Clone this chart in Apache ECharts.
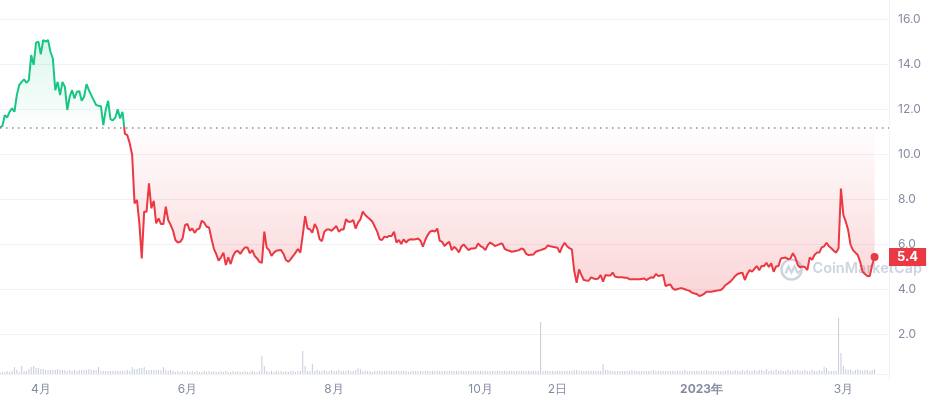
<!DOCTYPE html>
<html>
<head>
<meta charset="utf-8">
<script src="https://cdn.jsdelivr.net/npm/echarts@6/dist/echarts.min.js"></script>
<style>
html,body{margin:0;padding:0;background:#fff;}
#chart{width:929px;height:400px;}
</style>
</head>
<body>
<div id="chart"></div>
<script>
// ---- data ----
const startDate = [2022, 2, 15];   // 2022-03-15 (month 0-based)
const dayCount = 371;              // days covered by the x axis
const tickDates = ['2022-04-01','2022-06-01','2022-08-01','2022-10-01','2022-11-02','2023-01-01','2023-03-01'];
const tickLabels = ['4月','6月','8月','10月','2日','2023年','3月'];
const baseline = 11.19;

const price = [
11.19,11.25,11.73,11.63,11.88,12.03,11.88,12.62,13.07,13.21,
13.32,13.17,13.29,14.4,13.96,14.95,15.0,14.44,15.07,15.0,
15.07,14.55,14.25,12.84,13.21,12.62,13.21,12.99,11.96,12.55,
12.84,12.47,12.77,12.8,12.37,12.55,13.11,12.84,12.62,12.4,
12.18,12.15,12.13,11.29,11.96,12.37,11.54,11.5,11.63,11.99,
11.58,11.88,10.9,10.84,10.47,9.96,7.81,7.96,6.92,5.36,
7.44,7.44,8.7,7.59,7.92,6.92,7.14,6.89,6.89,7.66,
7.07,6.85,6.6,6.18,6.07,6.1,6.25,6.84,6.89,6.59,
6.69,6.5,6.65,6.69,7.04,6.95,6.77,6.74,6.25,5.8,
5.55,5.26,5.41,5.62,5.07,5.41,5.11,5.47,5.66,5.7,
5.56,5.73,5.85,5.85,5.59,5.73,5.47,5.36,5.21,5.16,
6.55,5.84,5.73,5.47,5.62,5.7,5.72,5.73,5.56,5.29,
5.21,5.33,5.47,5.62,5.78,5.62,6.4,7.24,6.69,6.66,
6.5,6.89,6.69,6.21,6.13,6.55,6.65,6.65,6.59,6.69,
6.8,6.55,6.65,6.65,7.1,6.99,6.99,7.07,6.69,6.95,
7.1,7.44,7.29,7.19,7.1,6.99,6.77,6.55,6.21,6.18,
6.33,6.3,6.36,6.36,6.55,6.07,6.18,6.0,6.21,6.07,
6.18,6.21,6.2,6.21,6.25,6.15,5.88,6.18,6.4,6.55,
6.59,6.55,6.69,6.15,6.1,5.91,6.02,6.1,5.73,5.88,
5.78,5.63,5.88,5.98,5.85,5.73,5.8,5.8,5.82,6.03,
5.91,5.85,5.73,5.95,6.07,6.0,5.91,5.95,6.0,6.03,
5.8,5.73,5.7,5.66,5.68,5.7,5.73,5.8,5.76,5.56,
5.51,5.52,5.53,5.66,5.7,5.73,5.77,5.81,5.94,5.9,
5.88,5.86,5.84,5.62,5.88,6.06,5.9,5.82,5.76,4.8,
4.28,4.87,4.62,4.4,4.38,4.37,4.52,4.47,4.44,4.47,
4.62,4.33,4.62,4.6,4.6,4.73,4.55,4.52,4.52,4.52,
4.5,4.5,4.43,4.43,4.43,4.43,4.43,4.45,4.47,4.4,
4.46,4.52,4.5,4.67,4.58,4.6,4.62,4.13,4.18,4.2,
4.03,3.96,4.0,4.03,4.03,3.99,3.95,3.92,3.84,3.8,
3.78,3.69,3.72,3.78,3.88,3.88,3.88,3.9,3.92,3.94,
3.96,4.05,4.18,4.25,4.33,4.45,4.58,4.67,4.7,4.73,
4.4,4.67,4.84,4.77,4.9,5.02,4.84,5.02,5.02,5.17,
4.98,5.14,4.77,5.0,5.02,5.36,5.38,5.4,5.33,5.36,
5.59,5.4,5.07,4.96,5.0,4.98,4.84,5.4,5.3,5.51,
5.62,5.62,5.85,5.9,6.06,5.9,5.81,5.7,5.62,5.81,
8.47,7.3,7.0,6.62,5.96,5.73,5.62,5.51,5.21,4.77,
4.67,4.58,4.58,5.07,5.42
];

const volume = [
2,2,2,3,2,3,7,4,2,8,
3,3,5,7,8,6,6,5,5,4,
4,4,4,4,5,4,4,4,3,4,
3,4,3,4,4,4,4,5,4,4,
4,7,3,3,3,3,3,3,3,3,
3,3,3,4,3,7,5,5,6,6,
7,4,4,4,4,4,4,4,7,4,
3,4,3,2,3,2,3,2,3,2,
3,2,3,2,2,3,2,3,2,3,
2,2,3,2,3,2,2,3,2,3,
2,2,3,2,2,3,2,2,3,18,
8,3,2,3,2,3,2,3,2,3,
2,3,3,2,3,3,23,8,3,3,
10,3,4,3,3,4,3,3,4,3,
3,4,3,3,3,4,3,3,4,6,
5,3,3,3,3,2,3,3,3,3,
3,3,3,3,3,3,3,3,3,3,
2,3,3,3,3,3,3,3,3,3,
3,3,3,3,3,3,3,3,3,3,
3,3,3,3,3,3,3,3,3,3,
3,3,3,3,3,3,3,3,3,3,
3,3,3,3,3,3,3,3,3,3,
3,3,3,3,3,52,3,3,3,3,
3,3,3,3,3,3,3,3,3,4,
4,3,3,3,3,3,3,3,3,3,
3,10,4,4,3,3,3,3,3,3,
3,3,3,4,3,3,3,3,3,3,
3,3,4,3,3,3,3,3,3,3,
3,3,3,3,3,4,3,3,3,3,
3,3,3,3,4,3,3,3,3,3,
3,3,3,4,3,3,4,3,3,4,
3,4,3,3,4,3,4,4,3,5,
3,4,3,5,3,4,3,3,4,3,
4,3,4,3,3,4,3,3,4,3,
3,4,3,7,6,3,3,3,3,56,
21,8,5,4,5,3,4,5,4,3,
4,4,3,4,5
];

// ---- build ----
const categories = [];
const t0 = Date.UTC(startDate[0], startDate[1], startDate[2]);
for (let i = 0; i < dayCount; i++) {
  categories.push(new Date(t0 + i * 86400000).toISOString().slice(0, 10));
}
const tickMap = {};
tickDates.forEach((d, i) => { tickMap[d] = tickLabels[i]; });
const isTick = (idx, val) => Object.prototype.hasOwnProperty.call(tickMap, val);

const GREEN = '#16c784', RED = '#ea3943';
const pMax = Math.max(...price), pMin = Math.min(...price);
const f = (pMax - baseline) / (pMax - pMin);   // relative position of the baseline inside the line's extent
const lastIdx = price.length - 1;
const last = price[lastIdx];

const lineGradient = new echarts.graphic.LinearGradient(0, 0, 0, 1, [
  {offset: 0, color: GREEN}, {offset: f, color: GREEN},
  {offset: f, color: RED}, {offset: 1, color: RED}
]);
const areaGradient = new echarts.graphic.LinearGradient(0, 0, 0, 1, [
  {offset: 0, color: 'rgba(22,199,132,0.22)'},
  {offset: f, color: 'rgba(22,199,132,0.01)'},
  {offset: f, color: 'rgba(234,57,67,0.01)'},
  {offset: 1, color: 'rgba(234,57,67,0.30)'}
]);

const WM = '#cdd4e0';
const chart = echarts.init(document.getElementById('chart'), null, {renderer: 'canvas'});
chart.setOption({
  animation: false,
  backgroundColor: '#ffffff',
  textStyle: {fontFamily: 'Inter, "Noto Sans", sans-serif'},
  grid: [
    {left: 0, right: 40, top: 0, bottom: 21, outerBoundsMode: 'none'},
    {left: 0, right: 40, bottom: 26, height: 60, outerBoundsMode: 'none'}
  ],
  xAxis: [
    {type: 'category', gridIndex: 0, data: categories, boundaryGap: false, show: false},
    {type: 'category', gridIndex: 1, data: categories, boundaryGap: false,
      axisLine: {show: true, lineStyle: {color: '#eff2f5', width: 1}},
      axisTick: {show: false},
      axisLabel: {
        interval: isTick, margin: 9, color: '#858ca2', fontSize: 12,
        formatter: v => tickMap[v] === '2023年' ? '{b|2023年}' : (tickMap[v] || ''),
        rich: {b: {fontWeight: 'bold', color: '#858ca2', fontSize: 12}}
      },
      splitLine: {show: false}
    }
  ],
  yAxis: [
    {type: 'value', gridIndex: 0, position: 'right', min: 0, max: 16.85, interval: 2,
      axisLine: {show: true, lineStyle: {color: '#eff2f5'}},
      axisTick: {show: false},
      axisLabel: {color: '#858ca2', fontSize: 12, margin: 9,
        formatter: v => (v > 0 && Math.abs(v % 2) < 1e-9) ? v.toFixed(1) : ''},
      splitLine: {show: true, showMinLine: false, showMaxLine: false, lineStyle: {color: '#f1f2f5', width: 1}}
    },
    {type: 'value', gridIndex: 1, min: 0, max: 60, show: false, splitLine: {show: false}}
  ],
  graphic: [{
    type: 'group', left: 779, top: 257, z: 1, silent: true,
    children: [
      {type: 'circle', shape: {cx: 11, cy: 11, r: 10}, style: {fill: 'none', stroke: WM, lineWidth: 2.6}},
      {type: 'polyline', shape: {points: [[5, 15], [8, 8], [11, 14], [14, 8], [17, 14], [21, 12]]},
        style: {fill: 'none', stroke: WM, lineWidth: 2.2}},
      {type: 'text', x: 32, y: 3, style: {text: 'CoinMarketCap', font: '600 14.5px Inter', fill: WM}}
    ]
  }],
  series: [
    {
      type: 'line', xAxisIndex: 0, yAxisIndex: 0, data: price,
      showSymbol: false, symbol: 'none', z: 3,
      lineStyle: {width: 2, color: lineGradient},
      itemStyle: {color: RED},
      areaStyle: {origin: baseline, color: areaGradient},
      markLine: {
        silent: true, symbol: ['none', 'none'], animation: false,
        data: [
          {yAxis: baseline, lineStyle: {color: '#858ca2', width: 1.5, type: [1.5, 4.5]}, label: {show: false}},
          {yAxis: last, lineStyle: {color: 'rgba(0,0,0,0)', width: 1, opacity: 1},
            label: {show: true, position: 'end', distance: 0, formatter: last.toFixed(1),
              backgroundColor: RED, color: '#fff', fontWeight: 'bold', fontSize: 13,
              padding: [3, 8, 2, 8], opacity: 1}}
        ]
      }
    },
    {
      type: 'scatter', xAxisIndex: 0, yAxisIndex: 0, z: 4, silent: true,
      data: [[lastIdx, last]], symbolSize: 8, itemStyle: {color: RED, opacity: 1}
    },
    {
      type: 'bar', xAxisIndex: 1, yAxisIndex: 1, data: volume, barWidth: 1,
      silent: true, itemStyle: {color: '#c5ccd8'}
    }
  ]
});
</script>
</body>
</html>
